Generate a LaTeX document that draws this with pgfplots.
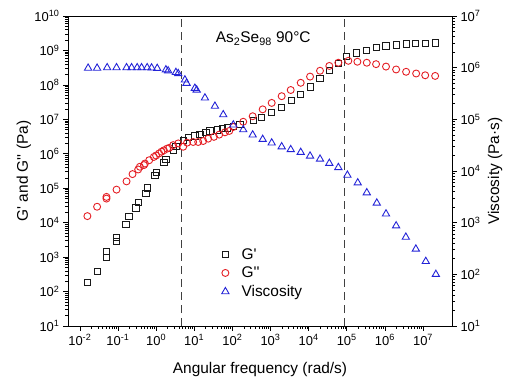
\documentclass[border=0pt]{standalone}
\usepackage{fontspec}
\setmainfont{Liberation Sans}
\usepackage{pgfplots}
\pgfplotsset{compat=1.18}

\newcommand{\pr}{\textquotesingle}
\definecolor{gcol}{RGB}{25,25,25}
\definecolor{rcol}{RGB}{228,30,36}
\definecolor{bcol}{RGB}{35,35,215}

\tikzset{
  gpmarks/.style={mark=square, mark size=3.1bp, gcol, mark options={line width=0.9bp, solid}},
  gppmarks/.style={mark=o, mark size=3.5bp, rcol, mark options={line width=0.9bp, solid}},
  etamarks/.style={mark=triangle, mark size=4.2bp, bcol, mark options={line width=0.9bp, solid}},
}

\begin{document}
\begin{tikzpicture}
\useasboundingbox (-68bp,-60bp) rectangle (442bp,326bp);

% storage and loss moduli (left axis)
\begin{axis}[
  scale only axis, width=384bp, height=310bp,
  at={(0bp,0bp)}, anchor=south west,
  xmode=log, ymode=log,
  xmin=0.0049, xmax=5.75e7,
  ymin=10, ymax=1e10,
  axis line style={line width=0.8bp},
  tick align=outside,
  major tick length=5bp, minor tick length=3bp,
  tick style={line width=0.6bp, black},
  tick label style={font=\fontsize{13}{15}\selectfont},
  label style={font=\fontsize{15.5}{18}\selectfont},
  xtick pos=bottom, ytick pos=left,
  xtick={1e-2,1e-1,1,1e1,1e2,1e3,1e4,1e5,1e6,1e7},
  xticklabels={10\textsuperscript{-2},10\textsuperscript{-1},10\textsuperscript{0},10\textsuperscript{1},10\textsuperscript{2},10\textsuperscript{3},10\textsuperscript{4},10\textsuperscript{5},10\textsuperscript{6},10\textsuperscript{7}},
  ytick={1e1,1e2,1e3,1e4,1e5,1e6,1e7,1e8,1e9,1e10},
  yticklabels={10\textsuperscript{1},10\textsuperscript{2},10\textsuperscript{3},10\textsuperscript{4},10\textsuperscript{5},10\textsuperscript{6},10\textsuperscript{7},10\textsuperscript{8},10\textsuperscript{9},10\textsuperscript{10}},
  xlabel={Angular frequency (rad/s)},
  ylabel={G\pr{} and G\pr\pr{} (Pa)},
  xlabel style={at={(axis description cs:0.5,-0.152)}, anchor=base},
  ylabel style={at={(axis description cs:-0.115,0.5)}, anchor=center},
]
% transition frequencies
\addplot[black!75, line width=1.4bp, dash pattern=on 8bp off 5bp, forget plot]
  coordinates {(4.67,10) (4.67,1e10)};
\addplot[black!75, line width=1.4bp, dash pattern=on 8bp off 5bp, forget plot]
  coordinates {(8.7e4,10) (8.7e4,1e10)};

% G'
\addplot[only marks, gpmarks] coordinates {
(0.0158,182) (0.0284,390) (0.050,980) (0.050,1480) (0.0918,2880) (0.0918,3630)
(0.162,8900) (0.195,15500) (0.295,26900) (0.346,38000) (0.54,72400) (0.58,102000)
(0.93,240000) (1.03,290000) (1.60,575000) (1.81,690000) (2.81,1.26e6) (3.3,1.6e6)
(5.14,2.5e6) (6.96,2.9e6) (10.4,3.3e6) (14.1,3.6e6) (20.3,4.2e6) (25.9,4.6e6)
(40.0,4.9e6) (55.6,5.5e6) (73.5,5.6e6) (106,6.3e6) (158,7.2e6) (354,9.5e6)
(587,1.15e7) (1075,1.55e7) (1966,2.24e7) (3600,3.5e7) (6200,5.4e7) (10900,8.7e7)
(19900,1.55e8) (34900,2.57e8) (60200,4.2e8) (1.0e5,6.6e8) (1.83e5,8.5e8)
(3.35e5,1.02e9) (5.87e5,1.23e9) (1.07e6,1.35e9) (1.97e6,1.45e9) (3.6e6,1.55e9)
(6.2e6,1.62e9) (1.14e7,1.62e9) (2.08e7,1.66e9)
};

% G''
\addplot[only marks, gppmarks] coordinates {
(0.0158,1.55e4) (0.0284,2.9e4) (0.050,5.0e4) (0.050,5.6e4) (0.0918,9.1e4)
(0.168,1.58e5) (0.241,2.57e5) (0.339,3.5e5) (0.376,4.2e5) (0.48,4.7e5) (0.51,5.2e5)
(0.66,6.5e5) (0.875,8.1e5) (1.0,8.9e5) (1.2,1.02e6) (1.39,1.15e6) (1.6,1.26e6)
(1.95,1.41e6) (2.2,1.48e6) (2.8,1.78e6) (3.8,2.0e6) (5.14,1.6e6) (6.5,2.1e6)
(9.4,2.2e6) (12.7,2.2e6) (17.2,2.35e6) (23.3,2.75e6) (32.9,3.1e6) (45.3,3.6e6)
(64,4.2e6) (83,4.6e6) (106,6.0e6) (193,8.5e6) (341,1.23e7) (624,1.95e7)
(1075,3.0e7) (1966,4.7e7) (3390,7.1e7) (6200,1.15e8) (10900,1.74e8) (19900,2.57e8)
(34900,3.55e8) (60200,4.4e8) (1.1e5,5.0e8) (1.9e5,4.7e8) (3.35e5,4.4e8)
(5.87e5,4.0e8) (1.07e6,3.4e8) (1.97e6,2.8e8) (3.6e6,2.4e8) (6.6e6,2.14e8)
(1.14e7,1.9e8) (2.08e7,1.82e8)
};

\node[anchor=base west, font=\fontsize{15.5}{18}\selectfont] at (rel axis cs:0.376,0.913)
  {As\textsubscript{2}Se\textsubscript{98} 90°C};
\end{axis}

% complex viscosity (right axis)
\begin{axis}[
  scale only axis, width=384bp, height=310bp,
  at={(0bp,0bp)}, anchor=south west,
  xmode=log, ymode=log,
  xmin=0.0049, xmax=5.75e7,
  ymin=10, ymax=1e7,
  axis x line=none, axis y line*=right,
  axis line style={line width=0.8bp},
  tick align=outside,
  major tick length=5bp, minor tick length=3bp,
  tick style={line width=0.6bp, black},
  tick label style={font=\fontsize{13}{15}\selectfont},
  label style={font=\fontsize{15.5}{18}\selectfont},
  ytick={1e1,1e2,1e3,1e4,1e5,1e6,1e7},
  yticklabels={10\textsuperscript{1},10\textsuperscript{2},10\textsuperscript{3},10\textsuperscript{4},10\textsuperscript{5},10\textsuperscript{6},10\textsuperscript{7}},
  ylabel={Viscosity (Pa·s)},
  ylabel style={at={(axis description cs:1.112,0.5)}, anchor=center},
  legend cell align=left,
  legend style={draw=none, fill=none, at={(axis description cs:0.388,0.264)}, anchor=north west,
    font=\fontsize{15.5}{18}\selectfont, row sep=2.2bp},
  legend image code/.code={\path (0bp,0bp) (19bp,0bp); \draw[#1] plot coordinates {(5bp,0bp)};},
]
\addlegendimage{only marks, gpmarks}
\addlegendentry{G\pr}
\addlegendimage{only marks, gppmarks}
\addlegendentry{G\pr\pr}
\addplot[only marks, etamarks] coordinates {
(0.0165,9.8e5) (0.0284,9.8e5) (0.0521,1.0e6) (0.0918,1.0e6) (0.168,1.0e6)
(0.228,1.0e6) (0.319,1.0e6) (0.416,1.0e6) (0.583,1.0e6) (0.762,9.9e5) (1.07,9.7e5)
(1.81,9.1e5) (2.07,8.7e5) (3.31,8.1e5) (3.8,7.7e5) (5.70,5.8e5) (6.3,5.0e5)
(10.4,4.0e5) (11.6,3.7e5) (19.1,2.6e5) (34.9,1.8e5) (57.7,1.23e5) (106,7.8e4)
(193,6.3e4) (341,5.0e4) (624,4.1e4) (1075,3.5e4) (1966,2.95e4) (3390,2.6e4)
(6200,2.3e4) (10900,1.95e4) (19900,1.7e4) (34900,1.41e4) (60200,1.17e4)
(1.04e5,8.3e3) (1.94e5,5.9e3) (3.35e5,3.8e3) (6.13e5,2.4e3) (1.07e6,1.48e3)
(1.97e6,870) (3.54e6,525) (6.48e6,309) (1.18e7,178) (2.17e7,100)
};
\addlegendentry{Viscosity}
\end{axis}
\end{tikzpicture}
\end{document}
